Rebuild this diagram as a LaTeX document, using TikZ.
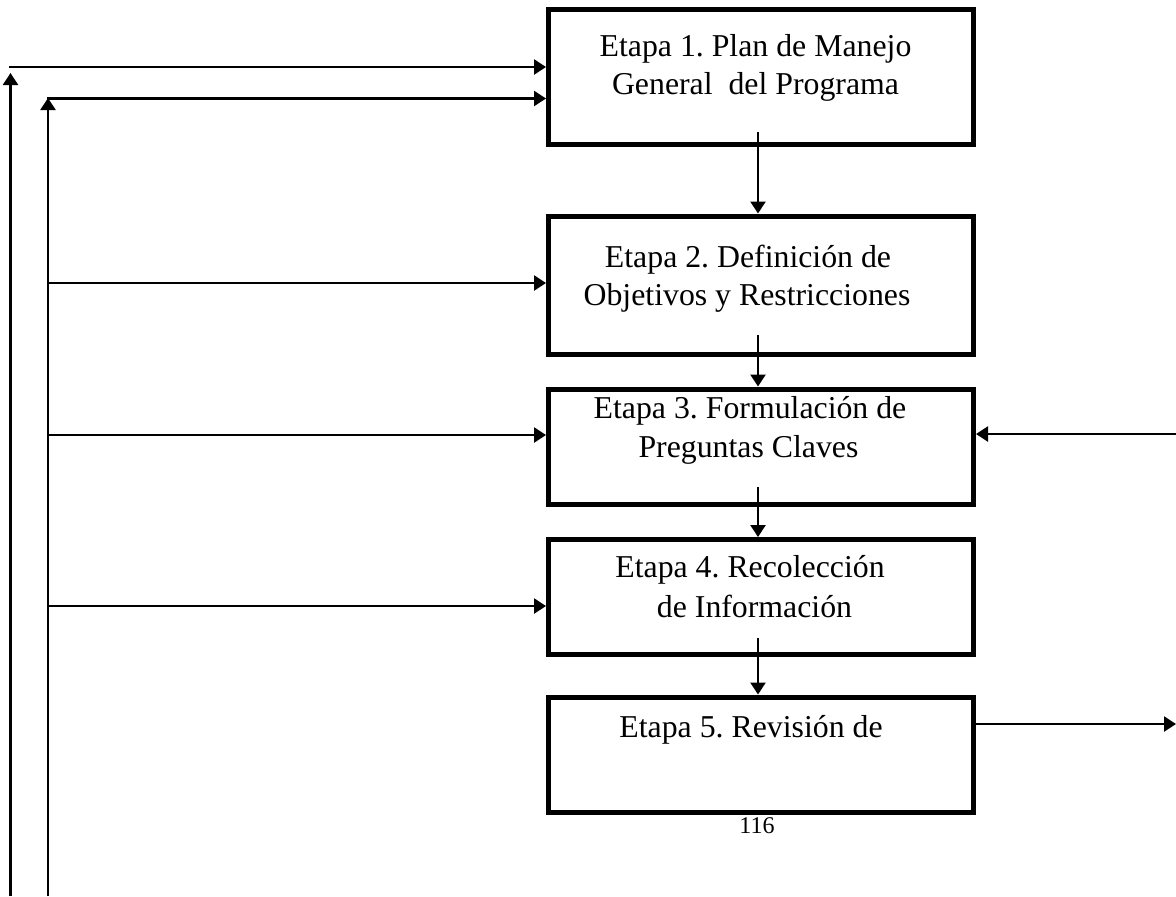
\documentclass[tikz,border=0pt]{standalone}
\usepackage{fontspec}
\setmainfont{Liberation Serif}
\usetikzlibrary{arrows.meta}
\frenchspacing

\begin{document}
\begin{tikzpicture}[x=0.5pt,y=-0.5pt,
  stage/.style={draw=black, line width=2.5pt, rectangle, inner sep=0pt,
    minimum width=212.5pt, fill=white},
  stagetxt/.style={font=\fontsize{15.9pt}{19pt}\selectfont, anchor=base, inner sep=0pt},
  link/.style={draw=black, line width=1.2pt},
  arr/.style={link, -{Triangle[length=6pt,width=7.5pt]}},
]
\useasboundingbox (0,0) rectangle (1176,896);

% stage boxes
\node[stage, minimum height=67.5pt]  (s1) at (761,77)     {};
\node[stage, minimum height=69.25pt] (s2) at (761,285.25) {};
\node[stage, minimum height=57.75pt] (s3) at (761,446.75) {};
\node[stage, minimum height=57.5pt]  (s4) at (761,597)    {};
\node[stage, minimum height=57.5pt]  (s5) at (761,754.5)  {};

% stage captions
\node[stagetxt] (t1a) at (755.5,56)  {Etapa 1. Plan de Manejo};
\node[stagetxt] (t1b) at (755.5,94)  {General\ \ del Programa};
\node[stagetxt] (t2a) at (748,267)   {Etapa 2. Definición de};
\node[stagetxt] (t2b) at (747,305)   {Objetivos y Restricciones};
\node[stagetxt] (t3a) at (750,418)   {Etapa 3. Formulación de};
\node[stagetxt] (t3b) at (748.5,457) {Preguntas Claves};
\node[stagetxt] (t4a) at (750,577)   {Etapa 4. Recolección};
\node[stagetxt] (t4b) at (754.5,617) {de Información};
\node[stagetxt] (t5a) at (751,737)   {Etapa 5. Revisión de};

% page number
\node[font=\fontsize{12pt}{14pt}\selectfont, inner sep=0pt] (pg) at (757,826) {116};

% flow between stages
\coordinate (d1) at (758,132);
\coordinate (d2) at (758,335);
\coordinate (d3) at (758,487);
\coordinate (d4) at (758,638);
\draw[arr] (d1) -- (d1 |- s2.north);
\draw[arr] (d2) -- (d2 |- s3.north);
\draw[arr] (d3) -- (d3 |- s4.north);
\draw[arr] (d4) -- (d4 |- s5.north);

% feedback rails on the left
\coordinate (outerBot) at (10.5,896);
\coordinate (outerTop) at (10.5,73);
\coordinate (innerBot) at (48,896);
\coordinate (innerTop) at (48,98);
\draw[arr] (outerBot) -- (outerTop);
\draw[arr] (innerBot) -- (innerTop);

\coordinate (h1) at (9,67);
\coordinate (h2) at (47.4,98.5);
\coordinate (h3) at (47.4,283);
\coordinate (h4) at (47.4,435);
\coordinate (h5) at (47.4,606);
\draw[arr] (h1) -- (h1 -| s1.west);
\draw[arr] (h2) -- (h2 -| s1.west);
\draw[arr] (h3) -- (h3 -| s2.west);
\draw[arr] (h4) -- (h4 -| s3.west);
\draw[arr] (h5) -- (h5 -| s4.west);

% links on the right
\coordinate (r3) at (1178,434);
\coordinate (r5) at (1176,724);
\draw[arr] (r3) -- (r3 -| s3.east);
\draw[arr] (s5.east |- r5) -- (r5);
\end{tikzpicture}
\end{document}
